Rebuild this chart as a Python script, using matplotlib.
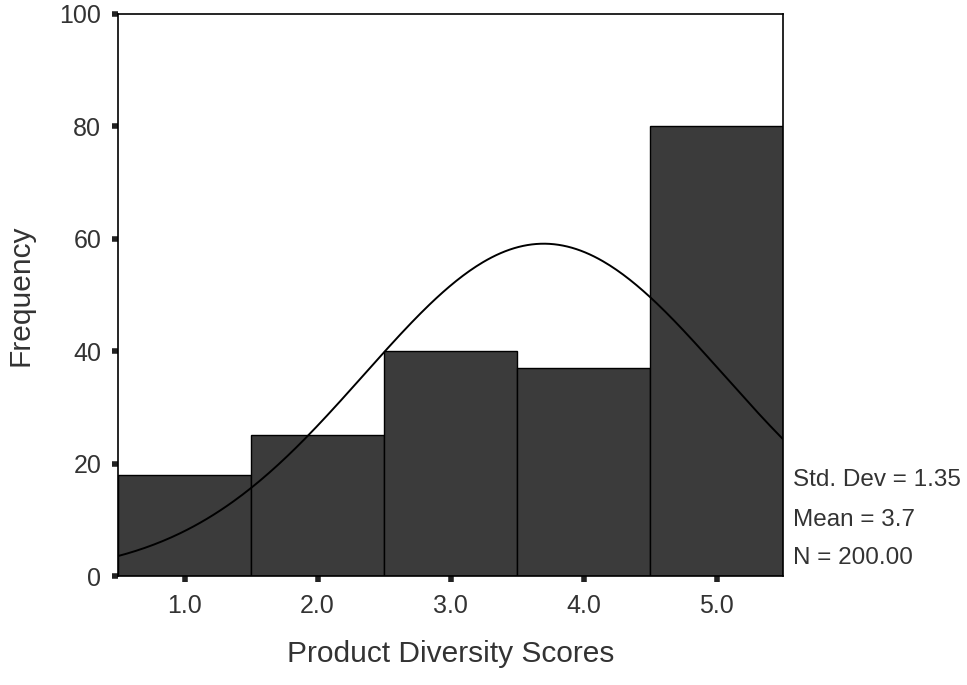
import numpy as np
import matplotlib
matplotlib.use('Agg')
import matplotlib.pyplot as plt

plt.rcParams['font.family'] = ['Liberation Sans', 'DejaVu Sans']

# Histogram data
scores = [1.0, 2.0, 3.0, 4.0, 5.0]
counts = [18, 25, 40, 37, 80]
std_dev = 1.35
mean = 3.7
n = 200.00
bin_width = 1.0

fig = plt.figure(figsize=(9.67, 6.85), dpi=100)
ax = fig.add_axes([0.122, 0.159, 0.688, 0.821])

ax.bar(scores, counts, width=bin_width, color='#3b3b3b', edgecolor='black', linewidth=1.0)

# normal curve from the stated statistics
xs = np.linspace(0.5, 5.5, 300)
ys = n * bin_width / (std_dev * np.sqrt(2 * np.pi)) * np.exp(-0.5 * ((xs - mean) / std_dev) ** 2)
ax.plot(xs, ys, color='black', linewidth=1.4)

ax.set_xlim(0.5, 5.5)
ax.set_ylim(0, 100)
ax.set_xticks(scores)
ax.set_xticklabels(['1.0', '2.0', '3.0', '4.0', '5.0'])
ax.set_yticks([0, 20, 40, 60, 80, 100])
ax.tick_params(axis='both', direction='out', length=4, width=4, labelsize=18, color='#222222', labelcolor='#333333')
ax.tick_params(axis='x', pad=9)
ax.tick_params(axis='y', pad=8)
for s in ax.spines.values():
    s.set_linewidth(1.2)

ax.set_ylabel('Frequency', fontsize=21.5, labelpad=18, color='#333333')
ax.set_xlabel('Product Diversity Scores', fontsize=21.5, labelpad=16, color='#333333')

ax.text(1.015, 0.17, 'Std. Dev = 1.35', transform=ax.transAxes, fontsize=17.5, va='center', color='#333333')
ax.text(1.015, 0.10, 'Mean = 3.7', transform=ax.transAxes, fontsize=17.5, va='center', color='#333333')
ax.text(1.015, 0.033, 'N = 200.00', transform=ax.transAxes, fontsize=17.5, va='center', color='#333333')

fig.savefig('out.png', dpi=100)
